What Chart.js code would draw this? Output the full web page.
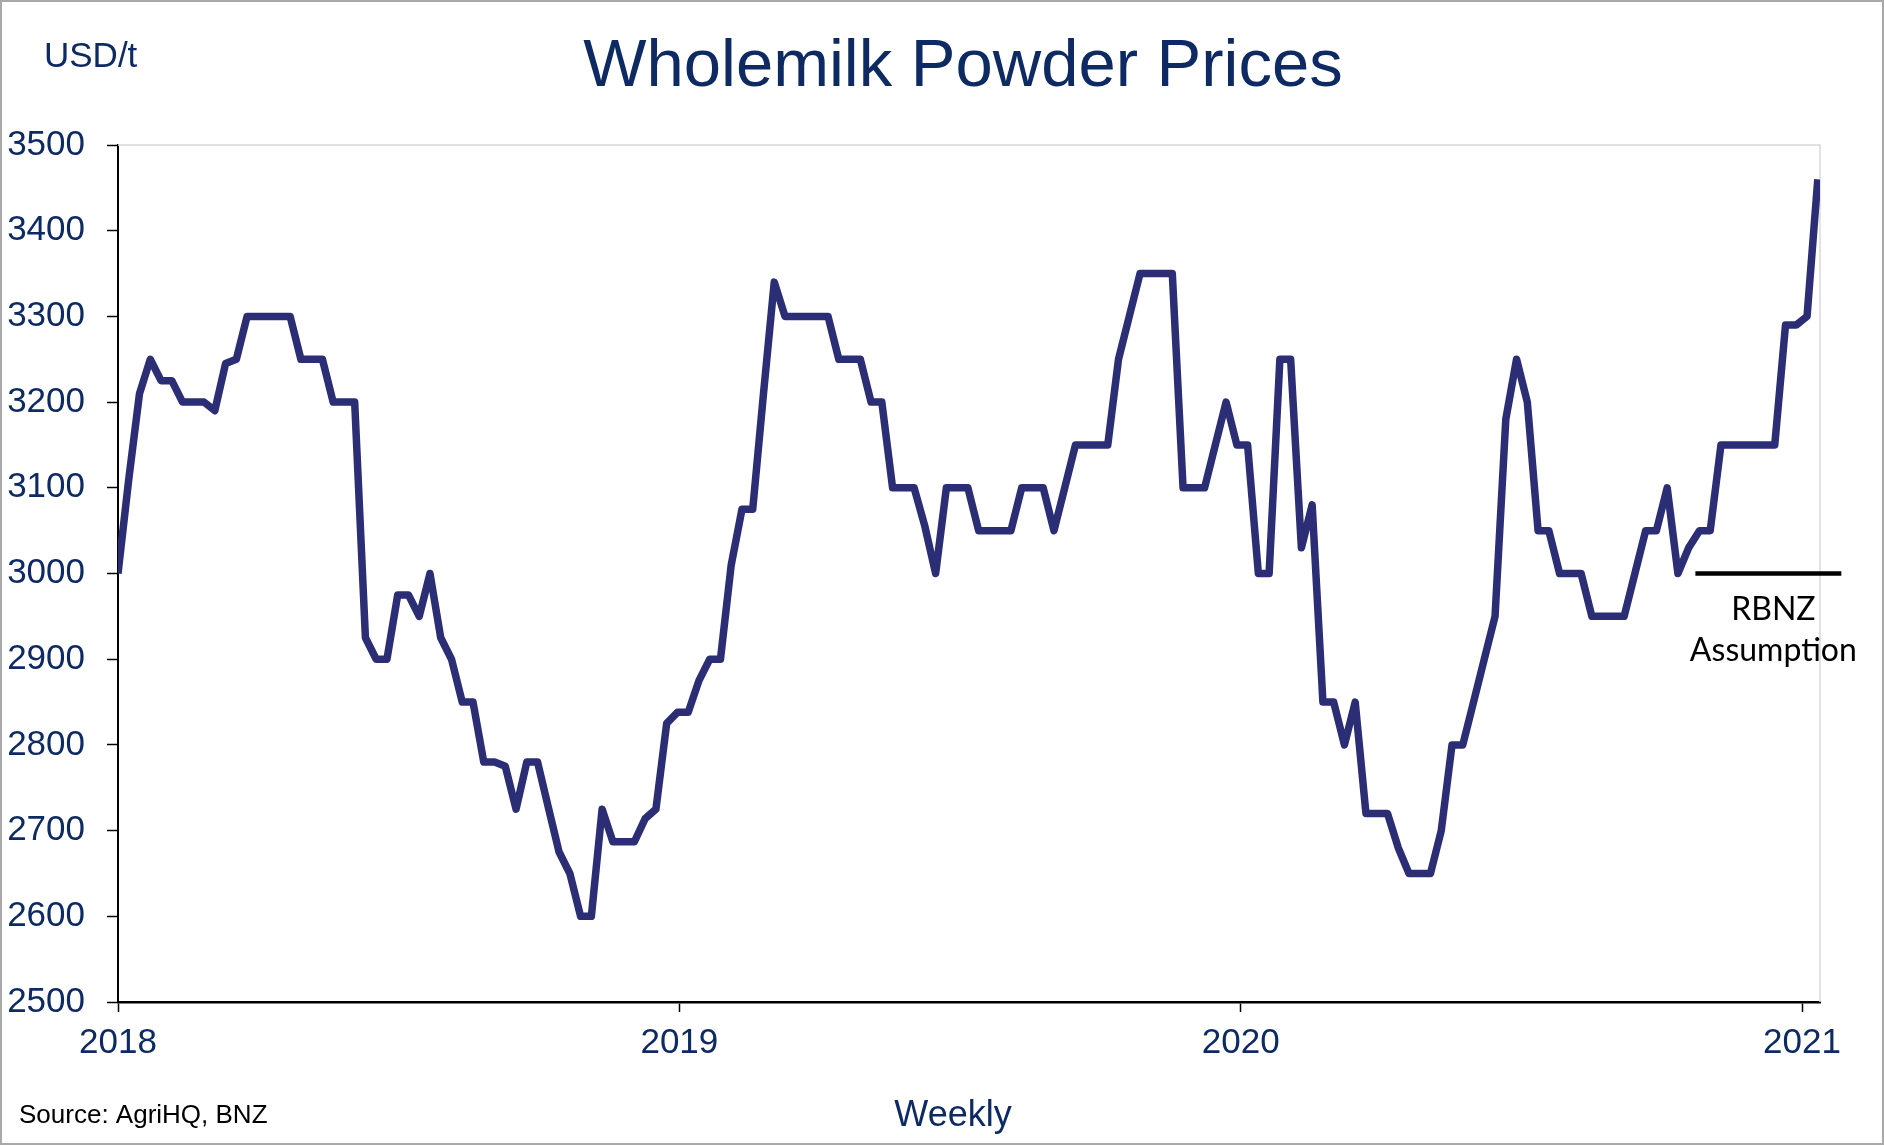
<!DOCTYPE html>
<html>
<head>
<meta charset="utf-8">
<title>Wholemilk Powder Prices</title>
<script src="https://cdn.jsdelivr.net/npm/chart.js@4.4.1/dist/chart.umd.min.js"></script>
<style>
  html, body { margin: 0; padding: 0; background: #fff; }
  #wrap { position: relative; width: 1884px; height: 1145px; }
</style>
</head>
<body>
<div id="wrap"><canvas id="wmpChart"></canvas></div>
<script>
// Weekly wholemilk powder prices, USD/t, starting first week of January 2018
const startYear = 2018;
const weekInYears = 7 / 365.25;
const wmpPrices = [
  3000, 3110, 3210, 3250, 3225, 3225, 3200, 3200, 3200, 3190,
  3245, 3250, 3300, 3300, 3300, 3300, 3300, 3250, 3250, 3250,
  3200, 3200, 3200, 2925, 2900, 2900, 2975, 2975, 2950, 3000,
  2925, 2900, 2850, 2850, 2780, 2780, 2775, 2725, 2780, 2780,
  2727, 2675, 2650, 2600, 2600, 2725, 2687, 2687, 2687, 2714,
  2725, 2825, 2838, 2838, 2875, 2900, 2900, 3010, 3075, 3075,
  3210, 3340, 3300, 3300, 3300, 3300, 3300, 3250, 3250, 3250,
  3200, 3200, 3100, 3100, 3100, 3055, 3000, 3100, 3100, 3100,
  3050, 3050, 3050, 3050, 3100, 3100, 3100, 3050, 3100, 3150,
  3150, 3150, 3150, 3250, 3300, 3350, 3350, 3350, 3350, 3100,
  3100, 3100, 3150, 3200, 3150, 3150, 3000, 3000, 3250, 3250,
  3030, 3080, 2850, 2850, 2800, 2850, 2720, 2720, 2720, 2680,
  2650, 2650, 2650, 2700, 2800, 2800, 2850, 2900, 2950, 3180,
  3250, 3200, 3050, 3050, 3000, 3000, 3000, 2950, 2950, 2950,
  2950, 3000, 3050, 3050, 3100, 3000, 3030, 3050, 3050, 3150,
  3150, 3150, 3150, 3150, 3150, 3290, 3290, 3300, 3460
];
const yearTicks = [2018, 2019, 2020, 2021];
const priceTicks = [2500, 2600, 2700, 2800, 2900, 3000, 3100, 3200, 3300, 3400, 3500];
const rbnzRange = [2020.81, 2021.07];
const rbnzAssumption = 3000;

const navy = '#0e2a63';
const lineBlue = '#2b2e74';
const axisFont = { family: '"Liberation Sans", Arial, sans-serif', size: 35 };

const wmpPoints = wmpPrices.map((v, i) => ({ x: startYear + i * weekInYears, y: v }));
const rbnzPoints = rbnzRange.map(x => ({ x: x, y: rbnzAssumption }));

// frame, border and free text (title, units, source, RBNZ note)
const chartDecor = {
  id: 'chartDecor',
  beforeDatasetsDraw(chart) {
    const { ctx, chartArea: a } = chart;
    ctx.save();
    ctx.strokeStyle = '#d9d9d9';
    ctx.lineWidth = 1.5;
    ctx.beginPath();
    ctx.moveTo(a.left, a.top);
    ctx.lineTo(a.right, a.top);
    ctx.lineTo(a.right, a.bottom);
    ctx.stroke();
    ctx.restore();
  },
  afterDraw(chart) {
    const { ctx, width, height } = chart;
    const xs = chart.scales.x, ys = chart.scales.y;
    ctx.save();
    ctx.strokeStyle = '#a9a9a9';
    ctx.lineWidth = 2;
    ctx.strokeRect(1, 1, width - 2, height - 2);

    ctx.fillStyle = navy;
    ctx.textBaseline = 'alphabetic';
    ctx.font = '67px "Liberation Sans", Arial, sans-serif';
    ctx.textAlign = 'center';
    ctx.fillText('Wholemilk Powder Prices', 963, 86);

    ctx.font = '35px "Liberation Sans", Arial, sans-serif';
    ctx.textAlign = 'left';
    ctx.fillText('USD/t', 44, 67);

    ctx.font = '36px "Liberation Sans", Arial, sans-serif';
    ctx.textAlign = 'center';
    ctx.fillText('Weekly', 953, 1126);

    ctx.fillStyle = '#000';
    ctx.font = '26px "Liberation Sans", Arial, sans-serif';
    ctx.textAlign = 'left';
    ctx.fillText('Source: AgriHQ, BNZ', 19, 1123);

    const cx = xs.getPixelForValue((rbnzRange[0] + rbnzRange[1]) / 2) + 5;
    const y0 = ys.getPixelForValue(rbnzAssumption);
    ctx.font = '32px Lato, "Open Sans", sans-serif';
    ctx.textAlign = 'center';
    ctx.fillText('RBNZ', cx, y0 + 46);
    ctx.fillText('Assumption', cx, y0 + 87);
    ctx.restore();
  }
};

const ctx = document.getElementById('wmpChart').getContext('2d');
const wmpChart = new Chart(ctx, {
  type: 'line',
  data: {
    datasets: [{
      label: 'WMP',
      data: wmpPoints,
      borderColor: lineBlue,
      borderWidth: 7.5,
      borderJoinStyle: 'round',
      pointRadius: 0,
      tension: 0
    }, {
      label: 'RBNZ Assumption',
      data: rbnzPoints,
      borderColor: '#000',
      borderWidth: 4.5,
      pointRadius: 0,
      clip: false
    }]
  },
  options: {
    responsive: true,
    maintainAspectRatio: false,
    animation: false,
    layout: { padding: { top: 145, right: 64, bottom: 0, left: 0 } },
    plugins: {
      legend: { display: false },
      tooltip: { enabled: false },
      title: { display: false }
    },
    scales: {
      x: {
        type: 'linear',
        min: 2018,
        max: 2021.032,
        afterBuildTicks: s => { s.ticks = yearTicks.map(v => ({ value: v })); },
        afterFit: s => { s.height = 143; },
        ticks: {
          autoSkip: false,
          maxRotation: 0,
          padding: 10,
          color: navy,
          font: axisFont,
          callback: v => String(v)
        },
        grid: { drawOnChartArea: false, tickLength: 10, tickColor: '#000', tickWidth: 1.5 },
        border: { color: '#000', width: 2.5 }
      },
      y: {
        min: 2500,
        max: 3500,
        afterBuildTicks: s => { s.ticks = priceTicks.map(v => ({ value: v })); },
        afterFit: s => { s.width = 118; },
        ticks: {
          padding: 22,
          color: navy,
          font: axisFont,
          callback: v => String(v)
        },
        grid: { drawOnChartArea: false, tickLength: 11, tickColor: '#000', tickWidth: 1.5 },
        border: { color: '#000', width: 2 }
      }
    }
  },
  plugins: [chartDecor]
});
</script>
</body>
</html>
